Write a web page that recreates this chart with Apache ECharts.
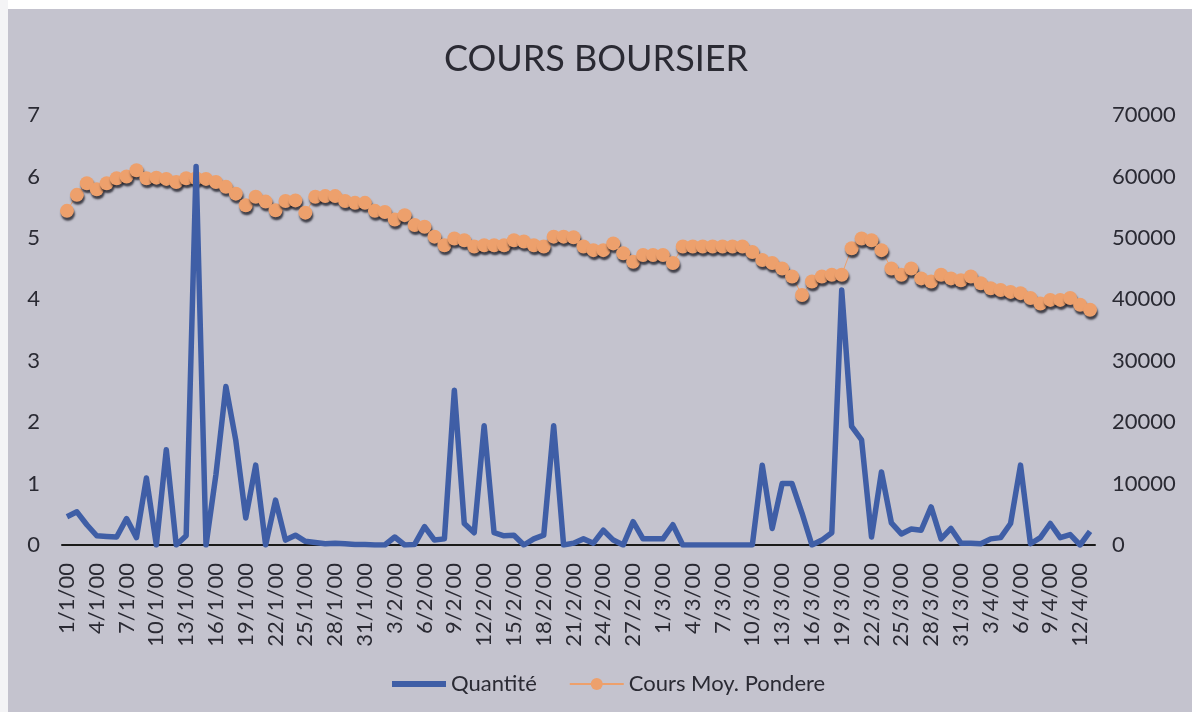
<!DOCTYPE html>
<html><head><meta charset="utf-8">
<script src="https://cdn.jsdelivr.net/npm/echarts@6/dist/echarts.min.js"></script>
<style>html,body{margin:0;padding:0;background:#fff}#c{width:1192px;height:712px}</style>
</head><body><div id="c"></div>
<script>
const dates = [
"1/1/00","2/1/00","3/1/00","4/1/00","5/1/00","6/1/00","7/1/00","8/1/00","9/1/00","10/1/00",
"11/1/00","12/1/00","13/1/00","14/1/00","15/1/00","16/1/00","17/1/00","18/1/00","19/1/00","20/1/00",
"21/1/00","22/1/00","23/1/00","24/1/00","25/1/00","26/1/00","27/1/00","28/1/00","29/1/00","30/1/00","31/1/00",
"1/2/00","2/2/00","3/2/00","4/2/00","5/2/00","6/2/00","7/2/00","8/2/00","9/2/00","10/2/00",
"11/2/00","12/2/00","13/2/00","14/2/00","15/2/00","16/2/00","17/2/00","18/2/00","19/2/00","20/2/00",
"21/2/00","22/2/00","23/2/00","24/2/00","25/2/00","26/2/00","27/2/00","28/2/00","29/2/00",
"1/3/00","2/3/00","3/3/00","4/3/00","5/3/00","6/3/00","7/3/00","8/3/00","9/3/00","10/3/00",
"11/3/00","12/3/00","13/3/00","14/3/00","15/3/00","16/3/00","17/3/00","18/3/00","19/3/00","20/3/00",
"21/3/00","22/3/00","23/3/00","24/3/00","25/3/00","26/3/00","27/3/00","28/3/00","29/3/00","30/3/00","31/3/00",
"1/4/00","2/4/00","3/4/00","4/4/00","5/4/00","6/4/00","7/4/00","8/4/00","9/4/00","10/4/00","11/4/00","12/4/00","13/4/00"];

const quantite = [
4600,5400,3300,1500,1400,1300,4300,1200,10900,0,
15500,0,1500,61600,0,11500,25800,17000,4400,13000,
0,7300,800,1600,600,400,200,300,200,100,
100,0,0,1300,0,100,3000,800,1000,25200,
3500,2000,19400,2000,1500,1600,0,1000,1600,19400,
0,300,1000,300,2400,800,0,3800,1000,1000,
1000,3300,0,0,0,0,0,0,0,0,
13000,2700,10000,10000,5200,0,800,2000,41500,19300,
17100,1300,11900,3600,1800,2600,2400,6200,1000,2700,
300,300,200,1000,1200,3500,13000,200,1200,3500,
1200,1700,0,2200];

const coursMoyPondere = [
5.44,5.70,5.89,5.79,5.89,5.97,6.00,6.10,5.97,5.98,
5.96,5.91,5.97,5.97,5.96,5.91,5.83,5.72,5.53,5.67,
5.59,5.45,5.60,5.61,5.41,5.67,5.68,5.68,5.60,5.57,
5.57,5.44,5.42,5.30,5.37,5.21,5.18,5.02,4.88,4.99,
4.96,4.86,4.88,4.88,4.88,4.96,4.94,4.88,4.86,5.02,
5.02,5.01,4.86,4.80,4.80,4.91,4.75,4.61,4.72,4.72,
4.72,4.59,4.86,4.86,4.86,4.86,4.86,4.86,4.86,4.77,
4.64,4.59,4.50,4.37,4.07,4.29,4.37,4.40,4.40,4.83,
4.99,4.96,4.80,4.50,4.40,4.50,4.34,4.29,4.40,4.34,
4.31,4.37,4.26,4.18,4.15,4.12,4.10,4.02,3.93,3.99,
3.99,4.02,3.91,3.83];

const leftTicks = {min:0, max:7, interval:1};
const rightTicks = {min:0, max:70000, interval:10000};

const FONT = 'Lato, "Open Sans", sans-serif';
const TXT = '#2a2a33';
const BLUE = '#3f5ea6';
const ORANGE = '#eda06c';
const chart = echarts.init(document.getElementById('c'));
chart.setOption({
  backgroundColor: '#c4c3ce',
  animation: false,
  textStyle: {fontFamily: FONT},
  graphic: [
    {type:'rect', shape:{x:0,y:0,width:1192,height:9}, style:{fill:'#ffffff'}, z:-1},
    {type:'rect', shape:{x:0,y:0,width:8,height:712}, style:{fill:'#f4f4f6'}, z:-1}
  ],
  title: {
    text: 'COURS BOURSIER', left: 'center', top: 36,
    textStyle: {fontFamily: FONT, fontSize: 36, fontWeight: 'normal', color: TXT}
  },
  legend: {
    top: 668, left: 387, itemGap: 32, itemWidth: 54, itemHeight: 15,
    textStyle: {fontFamily: FONT, fontSize: 22, color: TXT},
    data: [
      {name: 'Quantité', icon: 'path://M0,0 L56,0 L56,6 L0,6 Z'},
      {name: 'Cours Moy. Pondere'}
    ]
  },
  grid: {left: 62, right: 97, top: 115, bottom: 167},
  xAxis: {
    type: 'category', data: dates, boundaryGap: true,
    axisLine: {lineStyle: {color: '#1a1a1a', width: 2}},
    axisTick: {show: false},
    axisLabel: {interval: 2, rotate: 90, margin: 18, fontFamily: FONT, fontSize: 22, color: TXT}
  },
  yAxis: [
    {type:'value', min:leftTicks.min, max:leftTicks.max, interval:leftTicks.interval,
     splitLine:{show:false}, axisLine:{show:false}, axisTick:{show:false},
     axisLabel:{margin: 22, fontFamily: FONT, fontSize: 22, color: TXT}},
    {type:'value', min:rightTicks.min, max:rightTicks.max, interval:rightTicks.interval,
     splitLine:{show:false}, axisLine:{show:false}, axisTick:{show:false},
     axisLabel:{margin: 17, fontFamily: FONT, fontSize: 22, color: TXT, formatter: v => String(v)}}
  ],
  series: [
    {
      name: 'Quantité', type: 'line', yAxisIndex: 1, data: quantite,
      symbol: 'none', z: 4,
      lineStyle: {color: BLUE, width: 5.5, join: 'round'},
      itemStyle: {color: BLUE}
    },
    {
      name: 'Cours Moy. Pondere', type: 'line', yAxisIndex: 0, data: coursMoyPondere,
      symbol: 'circle', symbolSize: 14, showAllSymbol: true, z: 3,
      lineStyle: {color: ORANGE, width: 1},
      itemStyle: {color: ORANGE, shadowColor: 'rgba(20,20,30,0.75)', shadowBlur: 2, shadowOffsetX: 1, shadowOffsetY: 3}
    }
  ]
});
</script></body></html>
